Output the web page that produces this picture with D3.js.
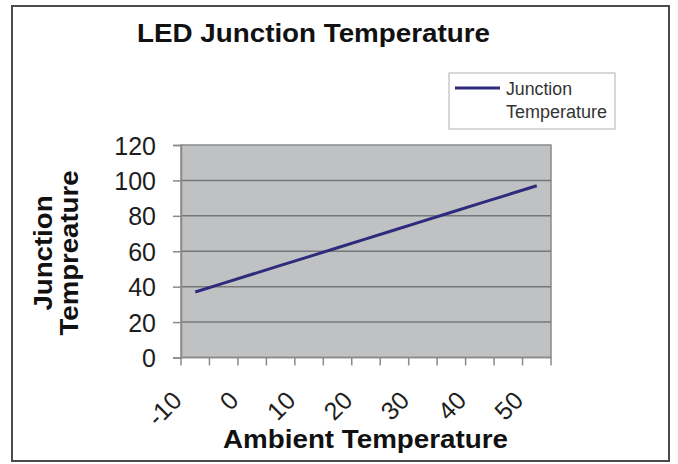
<!DOCTYPE html>
<html><head><meta charset="utf-8">
<script src="https://cdn.jsdelivr.net/npm/d3@7"></script>
<style>html,body{margin:0;padding:0;background:#fff;}svg{display:block;}</style>
</head><body>
<script>
// ---- data ----
const categories = ["-10","-5","0","5","10","15","20","25","30","35","40","45","50"];
const junctionTemp = [37, 42, 47, 52, 57, 62, 67, 72, 77, 82, 87, 92, 97];
const xTickLabels = ["-10","0","10","20","30","40","50"];
const yTicks = [0, 20, 40, 60, 80, 100, 120];
const seriesName = "Junction Temperature";
const chartTitle = "LED Junction Temperature";
const xTitle = "Ambient Temperature";
const yTitleLines = ["Junction", "Tempreature"];

const W = 678, H = 464;
const svg = d3.select("body").append("svg").attr("width", W).attr("height", H);
const font = "'Liberation Sans', Arial, Helvetica, sans-serif";

// outer frame
svg.append("rect").attr("x", 12).attr("y", 6).attr("width", 657).attr("height", 455)
  .attr("fill", "#fff").attr("stroke", "#4a4a4f").attr("stroke-width", 2);

const plot = {x0: 181, x1: 551, y0: 145, y1: 357.5};
const x = d3.scaleBand().domain(categories).range([plot.x0, plot.x1]).padding(0);
const y = d3.scaleLinear().domain([0, 120]).range([plot.y1, plot.y0]);

// plot background
svg.append("rect").attr("x", plot.x0).attr("y", plot.y0)
  .attr("width", plot.x1 - plot.x0).attr("height", plot.y1 - plot.y0)
  .attr("fill", "#bfc1c3").attr("stroke", "#8a8a8c").attr("stroke-width", 1.5);

// gridlines
svg.append("g").selectAll("line").data(yTicks.filter(d => d > 0 && d < 120)).join("line")
  .attr("x1", plot.x0).attr("x2", plot.x1)
  .attr("y1", d => y(d)).attr("y2", d => y(d))
  .attr("stroke", "#77777a").attr("stroke-width", 1.5);

// y axis
const yAxis = d3.axisLeft(y).tickValues(yTicks).tickSize(8).tickPadding(17);
const gy = svg.append("g").attr("transform", `translate(${plot.x0},0)`).call(yAxis);
gy.select(".domain").attr("stroke", "#8a8a8c").attr("stroke-width", 1.5);
gy.selectAll(".tick line").attr("stroke", "#8a8a8c").attr("stroke-width", 1.5);
gy.selectAll(".tick text").attr("font-family", font).attr("font-size", 25)
  .attr("fill", "#1e1e1e").attr("dy", "0.36em");

// x axis ticks at category boundaries
const boundaries = categories.map(c => x(c)).concat([x(categories[categories.length - 1]) + x.bandwidth()]);
svg.append("line").attr("x1", plot.x0).attr("x2", plot.x1).attr("y1", plot.y1).attr("y2", plot.y1)
  .attr("stroke", "#8a8a8c").attr("stroke-width", 1.5);
svg.append("g").selectAll("line").data(boundaries).join("line")
  .attr("x1", d => d).attr("x2", d => d).attr("y1", plot.y1).attr("y2", plot.y1 + 8)
  .attr("stroke", "#8a8a8c").attr("stroke-width", 1.5);

// x tick labels (rotated)
svg.append("g").selectAll("text").data(xTickLabels).join("text")
  .attr("transform", d => `translate(${x(d) + x.bandwidth() / 2 - 12},402) rotate(-45)`)
  .attr("text-anchor", "end").attr("font-family", font).attr("font-size", 25)
  .attr("fill", "#1e1e1e").text(d => d);

// line
const line = d3.line().x((d, i) => x(categories[i]) + x.bandwidth() / 2).y(d => y(d));
svg.append("path").datum(junctionTemp).attr("d", line)
  .attr("fill", "none").attr("stroke", "#2e2b7c").attr("stroke-width", 3);

// title
svg.append("text").attr("x", 313.5).attr("y", 42).attr("text-anchor", "middle")
  .attr("font-family", font).attr("font-weight", "bold").attr("font-size", 25.5)
  .attr("textLength", 353).attr("lengthAdjust", "spacingAndGlyphs")
  .attr("fill", "#111").text(chartTitle);

// x title
svg.append("text").attr("x", 365.5).attr("y", 448).attr("text-anchor", "middle")
  .attr("font-family", font).attr("font-weight", "bold").attr("font-size", 25)
  .attr("textLength", 285).attr("lengthAdjust", "spacingAndGlyphs")
  .attr("fill", "#111").text(xTitle);

// y title
const yLens = [115, 165];
const yBase = [52, 78];
yTitleLines.forEach((t, i) => {
  svg.append("text").attr("transform", `translate(${yBase[i]},253) rotate(-90)`)
    .attr("text-anchor", "middle").attr("font-family", font).attr("font-weight", "bold")
    .attr("font-size", 26).attr("textLength", yLens[i]).attr("lengthAdjust", "spacingAndGlyphs")
    .attr("fill", "#111").text(t);
});

// legend
const lg = svg.append("g");
lg.append("rect").attr("x", 449).attr("y", 73).attr("width", 166).attr("height", 56)
  .attr("fill", "#fff").attr("stroke", "#b0b0b0").attr("stroke-width", 1);
lg.append("line").attr("x1", 455).attr("x2", 500).attr("y1", 88).attr("y2", 88)
  .attr("stroke", "#2e2b7c").attr("stroke-width", 3);
const legWords = seriesName.split(" ");
const legLens = [66, 101];
legWords.forEach((w, i) => {
  lg.append("text").attr("x", 506).attr("y", 95 + i * 23)
    .attr("font-family", font).attr("font-size", 18)
    .attr("textLength", legLens[i]).attr("lengthAdjust", "spacingAndGlyphs")
    .attr("fill", "#333").text(w);
});
</script>
</body></html>
